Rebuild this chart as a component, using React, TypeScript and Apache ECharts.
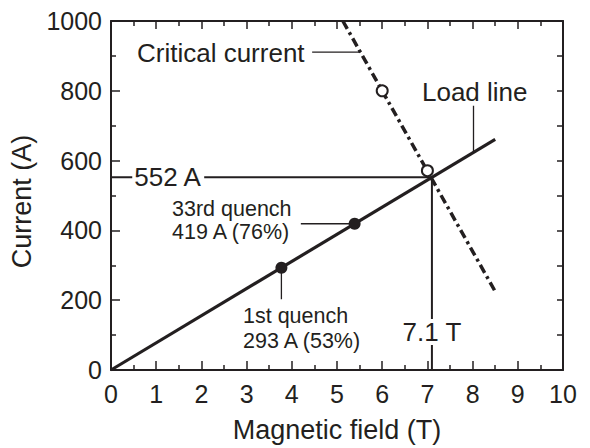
import React, { useEffect, useRef } from "react";
import * as echarts from "echarts";

const INK = "#231f20";
const FONT = "'Liberation Sans', Arial, Helvetica, sans-serif";

// Load line (field T, current A)
const loadLine: [number, number][] = [[0, 0], [8.5, 661]];
// Quench points on the load line
const quenchPoints: [number, number][] = [[3.77, 293], [5.39, 419]];
// Critical current line
const criticalLine: [number, number][] = [[5.13, 1000], [8.5, 225]];
// Measured critical current points (open circles)
const criticalPoints: [number, number][] = [[6.0, 800], [7.0, 571]];
// Operating limit
const limitField = 7.1;
const limitCurrent = 552;

const xTicks = { min: 0, max: 10, interval: 1 };
const yTicks = { min: 0, max: 1000, interval: 200 };

function lineSeries(data: [number, number][], width: number, type: any = "solid", z = 3) {
  return {
    type: "line",
    data,
    symbol: "none",
    silent: true,
    z,
    lineStyle: { color: INK, width, type, cap: "butt" },
  };
}

function textSeries(pos: [number, number], text: string, opts: any = {}) {
  return {
    type: "scatter",
    data: [pos],
    symbolSize: 0,
    silent: true,
    z: 10,
    itemStyle: { opacity: 1 },
    label: {
      show: true,
      formatter: text,
      color: INK,
      opacity: 1,
      fontFamily: FONT,
      fontSize: 26,
      position: "right",
      distance: 0,
      align: "left",
      verticalAlign: "middle",
      ...opts,
    },
  };
}

export default function App() {
  const ref = useRef<HTMLDivElement>(null);
  useEffect(() => {
    if (!ref.current) return;
    const chart = echarts.init(ref.current, undefined, { renderer: "svg" });
    const axisCommon = {
      type: "value",
      axisLine: { show: true, onZero: false, lineStyle: { color: INK, width: 2 } },
      splitLine: { show: false },
    };
    chart.setOption({
      animation: false,
      backgroundColor: "#ffffff",
      grid: { left: 111, right: 27, top: 21, bottom: 77, containLabel: false },
      xAxis: [
        {
          ...axisCommon,
          position: "bottom",
          ...xTicks,
          name: "Magnetic field (T)",
          nameLocation: "middle",
          nameGap: 46,
          nameTextStyle: { color: INK, fontFamily: FONT, fontSize: 27 },
          axisTick: { show: true, inside: true, length: 9, lineStyle: { color: INK, width: 1.5 } },
          minorTick: { show: true, splitNumber: 2, length: 5, lineStyle: { color: INK, width: 1.5 } },
          axisLabel: { color: INK, fontFamily: FONT, fontSize: 25, margin: 11 },
        },
        {
          ...axisCommon,
          position: "top",
          ...xTicks,
          axisTick: { show: true, inside: true, length: 8, lineStyle: { color: INK, width: 1.5 } },
          minorTick: { show: true, splitNumber: 2, length: 5, lineStyle: { color: INK, width: 1.5 } },
          axisLabel: { show: false },
        },
      ],
      yAxis: [
        {
          ...axisCommon,
          position: "left",
          ...yTicks,
          name: "Current (A)",
          nameLocation: "middle",
          nameGap: 60,
          nameRotate: 90,
          nameTextStyle: { color: INK, fontFamily: FONT, fontSize: 27, padding: [0, 12, 0, 0] },
          axisTick: { show: true, inside: true, length: 9, lineStyle: { color: INK, width: 1.5 } },
          minorTick: { show: true, splitNumber: 2, length: 5, lineStyle: { color: INK, width: 1.5 } },
          axisLabel: {
            color: INK,
            fontFamily: FONT,
            fontSize: 25,
            margin: 9,
            formatter: (v: number) => String(v),
          },
        },
        {
          ...axisCommon,
          position: "right",
          min: 0,
          max: 1000,
          interval: 100,
          axisTick: { show: true, inside: true, length: 6, lineStyle: { color: INK, width: 1.5 } },
          axisLabel: { show: false },
        },
      ],
      series: [
        lineSeries([[0, limitCurrent], [limitField, limitCurrent]], 2),
        lineSeries([[limitField, 0], [limitField, limitCurrent]], 2),
        lineSeries(criticalLine, 3.5, [9, 4, 3, 4], 4),
        lineSeries(loadLine, 3.2, "solid", 5),
        // leader lines
        lineSeries([[4.45, 911], [5.52, 911]], 1.3),
        lineSeries([[8.02, 757], [8.02, 623]], 1.3),
        lineSeries([[4.2, 419], [5.39, 419]], 1.3),
        lineSeries([[3.77, 293], [3.77, 203]], 1.3),
        {
          type: "scatter",
          data: quenchPoints,
          symbol: "circle",
          symbolSize: 12,
          silent: true,
          z: 6,
          itemStyle: { color: INK, opacity: 1 },
        },
        {
          type: "scatter",
          data: criticalPoints,
          symbol: "circle",
          symbolSize: 11,
          silent: true,
          z: 6,
          itemStyle: { color: "#ffffff", borderColor: INK, borderWidth: 2, opacity: 1 },
        },
        textSeries([0.575, 908], "Critical current"),
        textSeries([6.88, 797], "Load line"),
        textSeries([1.35, 429], "33rd quench\n419 A (76%)", { fontSize: 21.5, lineHeight: 23 }),
        textSeries([2.92, 119], "1st quench\n293 A (53%)", { fontSize: 21.5, lineHeight: 25 }),
        textSeries([0.47, limitCurrent], "552 A", {
          backgroundColor: "#ffffff",
          padding: [0, 2, 0, 2],
        }),
        textSeries([limitField, 109], "7.1 T", {
          position: "inside",
          align: "center",
          backgroundColor: "#ffffff",
          padding: [0, 2, 0, 2],
        }),
      ],
    });
    return () => chart.dispose();
  }, []);
  return <div ref={ref} style={{ width: 590, height: 448, position: "absolute", left: 0, top: 0 }} />;
}
